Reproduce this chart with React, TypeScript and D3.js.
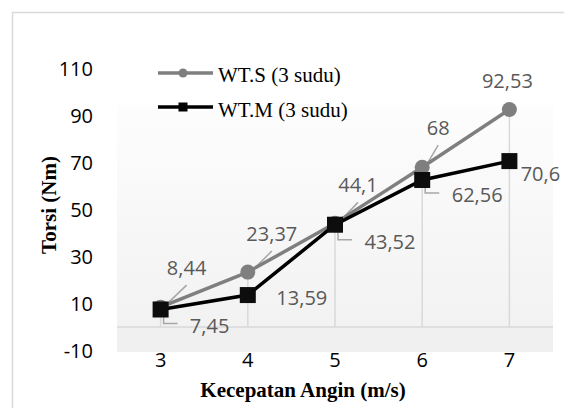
import React from "react";
import * as d3 from "d3";

const categories = [3, 4, 5, 6, 7];
const wtS = [8.44, 23.37, 44.1, 68, 92.53];
const wtM = [7.45, 13.59, 43.52, 62.56, 70.6];
const yTicks = [-10, 10, 30, 50, 70, 90, 110];
const seriesNames = ["WT.S (3 sudu)", "WT.M (3 sudu)"];
const xTitle = "Kecepatan Angin (m/s)";
const yTitle = "Torsi (Nm)";

// label layout (offsets from the marker), not data
const sLabelLayout = [
  { dx: 26, dy: -40, leader: true },
  { dx: 24, dy: -39, leader: true },
  { dx: 23, dy: -39, leader: true },
  { dx: 16, dy: -40, leader: true },
  { dx: -2, dy: -29, leader: false },
];
const mLabelLayout = [
  { dx: 49, dy: 16, leader: true },
  { dx: 54, dy: 2, leader: false },
  { dx: 55, dy: 17, leader: true },
  { dx: 55, dy: 15, leader: true },
  { dx: 31, dy: 12, leader: false },
];

const W = 564;
const H = 408;
const GRAY = "#7f7f7f";
const LABEL = "#595959";
const LEADER = "#a6a6a6";
const GRID = "#d9d9d9";
const NUM_FONT = "'Open Sans', 'Liberation Sans', sans-serif";
const SERIF = "'Liberation Serif', 'DejaVu Serif', serif";

const fmt = (v: number) => String(v).replace(".", ",");

export default function App() {
  const x = d3.scaleBand<number>().domain(categories).range([117, 553]);
  const cx = (c: number) => (x(c) as number) + x.bandwidth() / 2;
  const y = d3.scaleLinear().domain([-10, 110]).range([350.5, 68.5]);
  const plotLeft = 117;
  const plotRight = 553;
  const plotTop = 105;
  const plotBottom = 352;
  const y0 = y(0);

  const line = d3
    .line<number>()
    .x((_, i) => cx(categories[i]))
    .y((v) => y(v));

  const maxes = categories.map((_, i) => Math.max(wtS[i], wtM[i]));
  const zeroFrac = (y0 - plotTop) / (plotBottom - plotTop);

  return (
    <svg
      width={W}
      height={H}
      style={{ position: "absolute", left: 0, top: 0, background: "#fff" }}
    >
      <defs>
        <linearGradient id="plotbg" x1="0" y1="0" x2="0" y2="1">
          <stop offset="0%" stopColor="#fdfdfd" />
          <stop offset={`${zeroFrac * 100}%`} stopColor="#f2f2f2" />
          <stop offset={`${zeroFrac * 100}%`} stopColor="#f0f0f0" />
          <stop offset="100%" stopColor="#f0f0f0" />
        </linearGradient>
      </defs>
      {/* chart border */}
      <rect x={12.5} y={12.5} width={620} height={420} fill="none" stroke={GRID} strokeWidth={1.5} />

      {/* plot area */}
      <rect
        x={plotLeft}
        y={plotTop}
        width={plotRight - plotLeft}
        height={plotBottom - plotTop}
        fill="url(#plotbg)"
      />
      <line x1={plotLeft} x2={plotRight} y1={y0} y2={y0} stroke={GRID} strokeWidth={1.5} />
      {/* drop lines */}
      {categories.map((c, i) => (
        <line
          key={"d" + c}
          x1={cx(c)}
          x2={cx(c)}
          y1={y(maxes[i])}
          y2={y0}
          stroke={GRID}
          strokeWidth={1.5}
        />
      ))}

      {/* y tick labels */}
      {yTicks.map((t) => (
        <text
          key={"yt" + t}
          x={93}
          y={y(t) + 7.5}
          textAnchor="end"
          fontFamily={NUM_FONT}
          fontSize={20}
          fill="#000"
        >
          {t}
        </text>
      ))}
      {/* x tick labels */}
      {categories.map((c) => (
        <text
          key={"xt" + c}
          x={cx(c)}
          y={367}
          textAnchor="middle"
          fontFamily={NUM_FONT}
          fontSize={20}
          fill="#000"
        >
          {c}
        </text>
      ))}

      {/* axis titles */}
      <text
        x={303}
        y={397}
        textAnchor="middle"
        fontFamily={SERIF}
        fontWeight="bold"
        fontSize={21}
        fill="#000"
      >
        {xTitle}
      </text>
      <text
        transform={`translate(56,205) rotate(-90)`}
        textAnchor="middle"
        fontFamily={SERIF}
        fontWeight="bold"
        fontSize={21}
        fill="#000"
      >
        {yTitle}
      </text>

      {/* leader lines */}
      {wtS.map((v, i) => {
        const L = sLabelLayout[i];
        if (!L.leader) return null;
        const mx = cx(categories[i]);
        const my = y(v);
        return (
          <line
            key={"ls" + i}
            x1={mx + 3}
            y1={my}
            x2={mx + L.dx}
            y2={my + L.dy + 18}
            stroke={LEADER}
            strokeWidth={1.5}
          />
        );
      })}
      {wtM.map((v, i) => {
        const L = mLabelLayout[i];
        if (!L.leader) return null;
        const mx = cx(categories[i]);
        const my = y(v);
        const ly = my + L.dy - 2;
        return (
          <polyline
            key={"lm" + i}
            points={`${mx + 3},${my} ${mx + 3},${ly} ${mx + 17},${ly}`}
            fill="none"
            stroke={LEADER}
            strokeWidth={1.5}
          />
        );
      })}

      {/* series WT.S */}
      <path d={line(wtS) || ""} fill="none" stroke={GRAY} strokeWidth={3.5} />
      {wtS.map((v, i) => (
        <circle key={"cs" + i} cx={cx(categories[i])} cy={y(v)} r={7.5} fill={GRAY} />
      ))}
      {/* series WT.M */}
      <path d={line(wtM) || ""} fill="none" stroke="#000" strokeWidth={3.5} />
      {wtM.map((v, i) => (
        <rect
          key={"rm" + i}
          x={cx(categories[i]) - 8}
          y={y(v) - 8}
          width={16}
          height={16}
          fill="#0d0d0d"
        />
      ))}

      {/* data labels */}
      {wtS.map((v, i) => (
        <text
          key={"tS" + i}
          x={cx(categories[i]) + sLabelLayout[i].dx}
          y={y(v) + sLabelLayout[i].dy + 7.5}
          textAnchor="middle"
          fontFamily={NUM_FONT}
          fontSize={20}
          fill={LABEL}
        >
          {fmt(v)}
        </text>
      ))}
      {wtM.map((v, i) => (
        <text
          key={"tM" + i}
          x={cx(categories[i]) + mLabelLayout[i].dx}
          y={y(v) + mLabelLayout[i].dy + 7.5}
          textAnchor="middle"
          fontFamily={NUM_FONT}
          fontSize={20}
          fill={LABEL}
        >
          {fmt(v)}
        </text>
      ))}

      {/* legend */}
      <line x1={158} x2={213} y1={73} y2={73} stroke={GRAY} strokeWidth={3.5} />
      <circle cx={183} cy={73} r={4.5} fill={GRAY} />
      <text x={218} y={82} fontFamily={SERIF} fontSize={21} fill="#000">
        {seriesNames[0]}
      </text>
      <line x1={158} x2={213} y1={107} y2={107} stroke="#000" strokeWidth={3.5} />
      <rect x={178.5} y={102.5} width={9} height={9} fill="#000" />
      <text x={218} y={117} fontFamily={SERIF} fontSize={21} fill="#000">
        {seriesNames[1]}
      </text>
    </svg>
  );
}
